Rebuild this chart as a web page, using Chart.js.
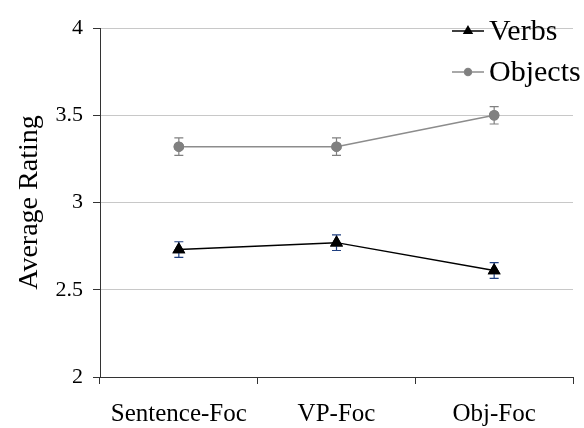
<!DOCTYPE html>
<html>
<head>
<meta charset="utf-8">
<script src="https://cdn.jsdelivr.net/npm/chart.js@4/dist/chart.umd.min.js"></script>
<style>
  body { margin: 0; background: #fff; }
  #wrap { width: 584px; height: 428px; }
</style>
</head>
<body>
<div id="wrap"><canvas id="myChart" width="584" height="428"></canvas></div>
<script>
// data
const categories = ['Sentence-Foc', 'VP-Foc', 'Obj-Foc'];
const verbs = [2.73, 2.77, 2.61];
const verbsErr = [0.045, 0.045, 0.045];
const objects = [3.32, 3.32, 3.50];
const objectsErr = [0.05, 0.05, 0.05];
const yTicks = [2, 2.5, 3, 3.5, 4];

const serif = '"Liberation Serif", "Times New Roman", serif';

// error bars drawn via scales
const errorBars = {
    id: 'errorBars',
    afterDatasetsDraw(chart) {
        const ctx = chart.ctx;
        const y = chart.scales.y;
        chart.data.datasets.forEach((ds, i) => {
            const meta = chart.getDatasetMeta(i);
            ctx.save();
            ctx.strokeStyle = ds.errColor;
            ctx.lineWidth = 1.2;
            meta.data.forEach((pt, j) => {
                const v = ds.data[j], e = ds.err[j];
                const top = y.getPixelForValue(v + e);
                const bot = y.getPixelForValue(v - e);
                ctx.beginPath();
                ctx.moveTo(pt.x, top); ctx.lineTo(pt.x, bot);
                ctx.moveTo(pt.x - 4.5, top); ctx.lineTo(pt.x + 4.5, top);
                ctx.moveTo(pt.x - 4.5, bot); ctx.lineTo(pt.x + 4.5, bot);
                ctx.stroke();
            });
            ctx.restore();
            // redraw the markers over the bars
            meta.data.forEach(pt => pt.draw(ctx, chart.chartArea));
        });
    }
};

// legend with line + marker like the original
const lineLegend = {
    id: 'lineLegend',
    afterDraw(chart) {
        const ctx = chart.ctx;
        const rows = [31, 72];
        chart.data.datasets.forEach((ds, i) => {
            const yy = rows[i];
            ctx.save();
            ctx.strokeStyle = ds.borderColor;
            ctx.lineWidth = 1.5;
            ctx.beginPath();
            ctx.moveTo(452, yy); ctx.lineTo(484, yy);
            ctx.stroke();
            Chart.helpers.drawPoint(ctx, {
                pointStyle: ds.pointStyle, radius: ds.pointStyle === 'triangle' ? 4.5 : 3.5,
                borderWidth: 1
            }, 468, yy);
            ctx.fillStyle = ds.pointBackgroundColor;
            ctx.fill();
            ctx.fillStyle = '#000';
            ctx.font = '30px ' + serif;
            ctx.textBaseline = 'middle';
            ctx.fillText(ds.label, 489, yy + 1);
            ctx.restore();
        });
    }
};

const ctx = document.getElementById('myChart').getContext('2d');
const chart = new Chart(ctx, {
    type: 'line',
    data: {
        labels: categories,
        datasets: [
            {
                label: 'Verbs',
                data: verbs,
                err: verbsErr,
                errColor: '#1f3f80',
                borderColor: '#000000',
                borderWidth: 1.5,
                pointStyle: 'triangle',
                pointRadius: 6,
                pointBackgroundColor: '#000000',
                pointBorderColor: '#000000',
                tension: 0
            },
            {
                label: 'Objects',
                data: objects,
                err: objectsErr,
                errColor: '#808080',
                borderColor: '#8c8c8c',
                borderWidth: 1.5,
                pointStyle: 'circle',
                pointRadius: 4.5,
                pointBackgroundColor: '#808080',
                pointBorderColor: '#808080',
                tension: 0
            }
        ]
    },
    options: {
        responsive: false,
        animation: false,
        layout: { padding: { top: 28, right: 11, left: 0, bottom: 0 } },
        plugins: {
            legend: { display: false },
            tooltip: { enabled: false }
        },
        scales: {
            x: {
                offset: true,
                afterFit: s => { s.height = 51; },
                grid: {
                    offset: true,
                    drawOnChartArea: false,
                    tickLength: 7,
                    color: '#333'
                },
                border: { color: '#333', width: 1 },
                ticks: {
                    color: '#000',
                    padding: 15,
                    font: { family: serif, size: 25 }
                }
            },
            y: {
                min: 2,
                max: 4,
                afterFit: s => { s.width = 100; },
                afterBuildTicks: s => { s.ticks = yTicks.map(v => ({ value: v })); },
                grid: {
                    color: '#c8c8c8',
                    tickColor: '#333',
                    tickLength: 7
                },
                border: { color: '#333', width: 1 },
                ticks: {
                    color: '#000',
                    padding: 10,
                    font: { family: serif, size: 22 },
                    callback: v => String(v)
                },
                title: {
                    display: true,
                    text: 'Average Rating',
                    color: '#000',
                    font: { family: serif, size: 28 },
                    padding: { top: 13 }
                }
            }
        }
    },
    plugins: [errorBars, lineLegend]
});
</script>
</body>
</html>
